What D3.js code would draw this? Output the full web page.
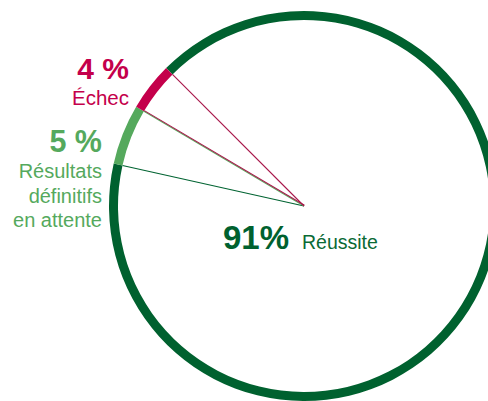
<!DOCTYPE html>
<html>
<head>
<meta charset="utf-8">
<script src="https://cdn.jsdelivr.net/npm/d3@7"></script>
<style>
  html, body { margin: 0; padding: 0; background: #fff; }
  svg { display: block; font-family: "Liberation Sans", Arial, sans-serif; }
</style>
</head>
<body>
<svg id="chart" width="488" height="401"></svg>
<script>
'use strict';

// ── Data ──────────────────────────────────────────────────────
const categories = ['Réussite', 'Résultats définitifs en attente', 'Échec'];
const values     = [91, 5, 4];
const colors     = ['#00612f', '#55a95d', '#c4004b'];
const lineColors = ['#006331', '#5aab60', '#a8184b'];

const WIDTH  = 488;
const HEIGHT = 401;
const CX = 304, CY = 206;
const R_OUT = 195, R_IN = 186;

const svg = d3.select('#chart');

const pie = d3.pie()
  .sort(null)
  .value(d => d)
  .startAngle(-Math.PI / 4)
  .endAngle(2 * Math.PI - Math.PI / 4);

const arcs = pie(values);

const arc = d3.arc().innerRadius(R_IN).outerRadius(R_OUT);

const g = svg.append('g').attr('transform', `translate(${CX},${CY})`);

// ── Radial leader lines ───────────────────────────────────────
function radial(angle, r) {
  return [r * Math.sin(angle), -r * Math.cos(angle)];
}

// each slice marks its end edge; Échec marks its start edge too
const leaders = arcs.map((a, i) => ({ angle: a.endAngle, color: lineColors[i], off: 0 }));
leaders.push({ angle: arcs[2].startAngle, color: lineColors[2], off: 0.8 });

g.selectAll('line.leader')
  .data(leaders)
  .join('line')
    .attr('class', 'leader')
    .attr('x1', d => d.off * Math.cos(d.angle))
    .attr('y1', d => d.off * Math.sin(d.angle))
    .attr('x2', d => radial(d.angle, R_IN)[0] + d.off * Math.cos(d.angle))
    .attr('y2', d => radial(d.angle, R_IN)[1] + d.off * Math.sin(d.angle))
    .attr('stroke', d => d.color)
    .attr('stroke-width', 1.1);

// ── Ring ──────────────────────────────────────────────────────
g.selectAll('path.slice')
  .data(arcs)
  .join('path')
    .attr('class', 'slice')
    .attr('d', arc)
    .attr('fill', (d, i) => colors[i]);

// ── Labels ────────────────────────────────────────────────────
const fmtPct = v => v + ' %';

// Échec
svg.append('text')
  .attr('x', 129).attr('y', 79)
  .attr('text-anchor', 'end')
  .attr('font-size', 30).attr('font-weight', 'bold')
  .attr('fill', colors[2])
  .text(fmtPct(values[2]));
svg.append('text')
  .attr('x', 129).attr('y', 105)
  .attr('text-anchor', 'end')
  .attr('font-size', 20.5)
  .attr('fill', colors[2])
  .text(categories[2]);

// Résultats définitifs en attente
svg.append('text')
  .attr('x', 102).attr('y', 152)
  .attr('text-anchor', 'end')
  .attr('font-size', 30.5).attr('font-weight', 'bold')
  .attr('fill', colors[1])
  .text(fmtPct(values[1]));
svg.append('text')
  .attr('text-anchor', 'end')
  .attr('font-size', 20)
  .attr('fill', colors[1])
  .selectAll('tspan')
  .data(['Résultats', 'définitifs', 'en attente'])
  .join('tspan')
    .attr('x', 102)
    .attr('y', (d, i) => 178 + i * 24.5)
    .text(d => d);

// Réussite
svg.append('text')
  .attr('x', 223).attr('y', 249)
  .attr('font-size', 33).attr('font-weight', 'bold')
  .attr('fill', colors[0])
  .text(values[0] + '%');
svg.append('text')
  .attr('x', 302).attr('y', 249)
  .attr('font-size', 19.5)
  .attr('fill', '#0a6a35')
  .text(categories[0]);
</script>
</body>
</html>
